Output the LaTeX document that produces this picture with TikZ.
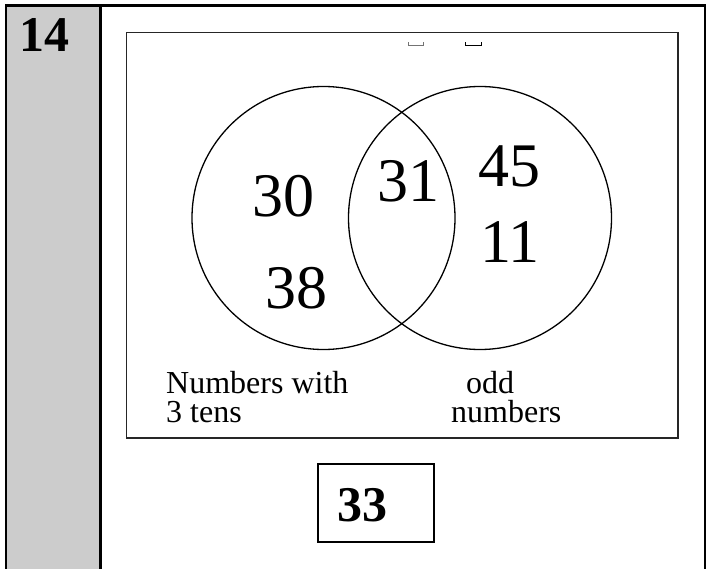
\documentclass[tikz,border=0pt]{standalone}
\usepackage{fontspec}
\setmainfont{Liberation Serif}
\usetikzlibrary{positioning}
\definecolor{colgrey}{HTML}{CCCCCC}

\begin{document}
\begin{tikzpicture}[
    x=1pt, y=-1pt,
    frame/.style={draw=black, line width=2.4pt},
    setbox/.style={draw=black!85, line width=1.6pt},
    vset/.style={circle, draw=black, line width=1.3pt, minimum size=263pt, inner sep=0pt},
    num/.style={inner sep=0pt, font=\fontsize{62}{62}\selectfont},
    qnum/.style={inner sep=0pt, font=\fontsize{50}{50}\selectfont\bfseries},
    lab/.style={inner sep=0pt, align=left, anchor=base west, font=\fontsize{32}{29}\selectfont},
    ansbox/.style={rectangle, draw=black, line width=2pt, minimum width=116pt, minimum height=78pt, inner sep=0pt},
  ]
  \useasboundingbox (0,0) rectangle (711,569);
  \clip (0,0) rectangle (711,569);
  % ------------------------------------------------------------------ table cell and question number
  \fill[colgrey] (6,5.5) rectangle (100.3,569);
  \draw[frame] (6,569) -- (6,5.5) -- (704.7,5.5) -- (704.7,569);
  \draw[frame] (100.3,5.5) -- (100.3,569);
  \node[qnum] (qno) at (44.5,35) {14};
  % ------------------------------------------------------------------ universal set
  \draw[setbox] (126.5,32.5) rectangle (678,438);
  \draw[black!55, line width=1.3pt] (408.5,42.5) -- (408.5,45.5) -- (423.5,45.5) -- (423.5,42.5);
  \draw[black, line width=1.6pt] (465.5,42.5) -- (465.5,45.5) -- (481.5,45.5) -- (481.5,42.5);
  % ------------------------------------------------------------------ the two sets
  \node[vset] (tens) at (323.5,218) {};
  \node[vset] (odd) at (480,218) {};
  \node[num] (n30) at (283,196) {30};
  \node[num] (n38) at (296,288) {38};
  \node[num] (n31) at (408,181) {31};
  \node[num] (n45) at (509,166) {45};
  \node[num] (n11) at (510,242) {11};
  \node[lab] (labtens) at (166,422) {Numbers with\\3 tens};
  \node[lab] (labodd) at (451,422) {\hspace{15pt}odd\\numbers};
  % ------------------------------------------------------------------ answer box
  \node[ansbox] (ans) at (376,503) {};
  \node[qnum] (n33) at (362.5,505) {33};
\end{tikzpicture}
\end{document}
